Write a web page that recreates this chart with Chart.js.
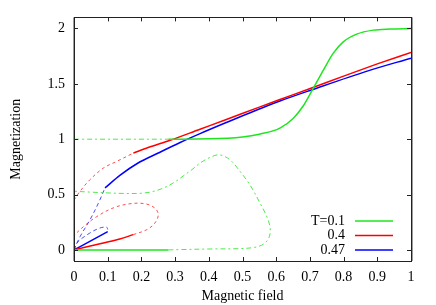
<!DOCTYPE html>
<html>
<head>
<meta charset="utf-8">
<script src="https://cdn.jsdelivr.net/npm/chart.js@4.4.0/dist/chart.umd.min.js"></script>
<style>
  html, body { margin: 0; padding: 0; background: #fff; }
</style>
</head>
<body>
<canvas id="magChart" width="436" height="305"></canvas>
<script>
// ticks
const fieldTicks = [0, 0.1, 0.2, 0.3, 0.4, 0.5, 0.6, 0.7, 0.8, 0.9, 1];
const magTicks = [0, 0.5, 1, 1.5, 2];

// T=0.1 (green): [field, magnetization]
const greenLow = [[0, 0], [0.28, 0]];
const greenLoop = [[0.28, 0], [0.315, 0.003], [0.413, 0.009], [0.493, 0.012], [0.542, 0.027],
    [0.567, 0.063], [0.58, 0.123], [0.582, 0.198], [0.574, 0.288], [0.552, 0.423], [0.522, 0.588],
    [0.493, 0.708], [0.463, 0.813], [0.431, 0.859], [0.40, 0.83], [0.374, 0.784], [0.35, 0.725],
    [0.324, 0.668], [0.30, 0.615], [0.27, 0.565], [0.235, 0.528], [0.2, 0.512], [0.15, 0.51],
    [0.1, 0.515], [0.05, 0.522], [0, 0.53]];
const greenMidDash = [[0, 1], [0.28, 1]];
const greenHigh = [[0.28, 1], [0.4, 1.003], [0.5, 1.02], [0.55, 1.045], [0.611, 1.1], [0.651, 1.19],
    [0.68, 1.3], [0.71, 1.46], [0.74, 1.624], [0.769, 1.775], [0.799, 1.879], [0.839, 1.949],
    [0.888, 1.985], [0.938, 1.995], [1, 2.0]];

// T=0.4 (red)
const redLow = [[0, 0], [0.087, 0.063], [0.136, 0.099], [0.176, 0.138]];
const redLoop = [[0.176, 0.138], [0.216, 0.183], [0.24, 0.243], [0.25, 0.318], [0.24, 0.378],
    [0.211, 0.417], [0.166, 0.417], [0.117, 0.38], [0.067, 0.30], [0.028, 0.21], [0.003, 0.138],
    [0, 0.12]];
const redUpperDash = [[0, 0.45], [0.018, 0.53], [0.047, 0.633], [0.087, 0.739], [0.127, 0.80],
    [0.176, 0.874]];
const redHigh = [[0.176, 0.874], [0.22, 0.925], [0.285, 0.99], [0.374, 1.09], [0.45, 1.175],
    [0.55, 1.29], [0.611, 1.358], [0.705, 1.462], [0.8, 1.57], [0.9, 1.68], [1, 1.784]];

// T=0.47 (blue)
const blueLow = [[0, 0], [0.047, 0.078], [0.1, 0.165]];
const blueLowDash = [[0, 0], [0.008, 0.063], [0.047, 0.153], [0.077, 0.198], [0.097, 0.205],
    [0.1, 0.185]];
const blueSteepDash = [[0, 0], [0.018, 0.12], [0.047, 0.27], [0.072, 0.42], [0.092, 0.56]];
const blueHigh = [[0.092, 0.56], [0.137, 0.675], [0.19, 0.785], [0.25, 0.875], [0.315, 0.97],
    [0.374, 1.05], [0.45, 1.148], [0.572, 1.3], [0.611, 1.345], [0.705, 1.445], [0.87, 1.615],
    [1, 1.732]];

const legendLabels = ['T=0.1', '0.4', '0.47'];

const GREEN = 'rgb(30,230,30)';
const RED = 'rgb(255,0,0)';
const BLUE = 'rgb(0,0,255)';
const FONT = 'Liberation Serif';

function pts(arr) {
    return arr.map(p => ({ x: p[0], y: p[1] }));
}

// x-monotone stable branches
function solid(arr, color) {
    return { data: pts(arr), borderColor: color, borderWidth: 1.5, cubicInterpolationMode: 'monotone' };
}

// unstable branches, some fold back
function dashed(arr, color, dash) {
    return { data: pts(arr), borderColor: color, borderWidth: 1, borderDash: dash, tension: 0.35 };
}

const datasets = [
    solid(greenLow, GREEN),
    dashed(greenLoop, 'rgba(30,230,30,0.8)', [5, 3, 2, 3]),
    dashed(greenMidDash, 'rgba(30,230,30,0.8)', [5, 3, 2, 3]),
    solid(greenHigh, GREEN),
    solid(redLow, RED),
    dashed(redLoop, 'rgba(255,0,0,0.7)', [3, 3]),
    dashed(redUpperDash, 'rgba(255,0,0,0.7)', [3, 3]),
    solid(redHigh, RED),
    solid(blueLow, BLUE),
    dashed(blueLowDash, 'rgba(0,0,255,0.7)', [4, 3]),
    dashed(blueSteepDash, 'rgba(0,0,255,0.7)', [4, 3]),
    solid(blueHigh, BLUE)
];

// frame with inward ticks on all sides
const framePlugin = {
    id: 'frame',
    afterDraw(chart) {
        const ctx = chart.ctx;
        const { left, right, top, bottom } = chart.chartArea;
        const xs = chart.scales.x, ys = chart.scales.y;
        ctx.save();
        ctx.strokeStyle = '#222';
        ctx.lineWidth = 1;
        ctx.strokeRect(Math.round(left) + 0.5, Math.round(top) + 0.5,
            Math.round(right - left), Math.round(bottom - top));
        ctx.strokeStyle = 'rgba(90,90,90,0.6)';
        ctx.beginPath();
        ctx.moveTo(Math.round(left) - 0.5, top); ctx.lineTo(Math.round(left) - 0.5, bottom);
        ctx.moveTo(Math.round(right) + 1.5, top); ctx.lineTo(Math.round(right) + 1.5, bottom);
        ctx.stroke();
        ctx.strokeStyle = '#222';
        ctx.beginPath();
        fieldTicks.forEach(v => {
            const px = Math.round(xs.getPixelForValue(v)) + 0.5;
            ctx.moveTo(px, bottom); ctx.lineTo(px, bottom - 4);
            ctx.moveTo(px, top); ctx.lineTo(px, top + 4);
        });
        magTicks.forEach(v => {
            const py = Math.round(ys.getPixelForValue(v)) + 0.5;
            ctx.moveTo(left, py); ctx.lineTo(left + 4, py);
            ctx.moveTo(right, py); ctx.lineTo(right - 4, py);
        });
        ctx.stroke();
        ctx.restore();
    }
};

// legend in the lower right corner
const legendPlugin = {
    id: 'cornerLegend',
    afterDraw(chart) {
        const ctx = chart.ctx;
        const colors = [GREEN, RED, BLUE];
        ctx.save();
        ctx.font = '14px "' + FONT + '"';
        ctx.textAlign = 'right';
        ctx.textBaseline = 'middle';
        legendLabels.forEach((label, i) => {
            const y = 221 + i * 14.5;
            ctx.fillStyle = '#000';
            ctx.fillText(label, 345, y);
            ctx.strokeStyle = colors[i];
            ctx.lineWidth = 1.5;
            ctx.beginPath();
            ctx.moveTo(355, y);
            ctx.lineTo(393, y);
            ctx.stroke();
        });
        ctx.restore();
    }
};

new Chart(document.getElementById('magChart'), {
    type: 'scatter',
    data: { datasets: datasets.map(d => Object.assign(d, { showLine: true, pointRadius: 0, fill: false })) },
    options: {
        responsive: false,
        animation: false,
        layout: { padding: { top: 17, right: 25, left: 0, bottom: 0 } },
        plugins: { legend: { display: false }, tooltip: { enabled: false } },
        scales: {
            x: {
                type: 'linear',
                min: 0,
                max: 1,
                afterBuildTicks: s => { s.ticks = fieldTicks.map(v => ({ value: v })); },
                afterFit: s => { s.height = 44; },
                grid: { display: false, drawTicks: false },
                border: { display: false },
                ticks: {
                    autoSkip: false, maxRotation: 0, padding: 8, color: '#000',
                    font: { family: FONT, size: 14 },
                    callback: v => String(v)
                },
                title: {
                    display: true, text: 'Magnetic field', color: '#000',
                    font: { family: FONT, size: 14 }, padding: { top: 0, bottom: 0 }
                }
            },
            y: {
                type: 'linear',
                min: -0.1,
                max: 2.1,
                afterBuildTicks: s => { s.ticks = magTicks.map(v => ({ value: v })); },
                afterFit: s => { s.width = 74; },
                grid: { display: false, drawTicks: false },
                border: { display: false },
                ticks: {
                    padding: 9, color: '#000',
                    font: { family: FONT, size: 14 },
                    callback: v => String(v)
                },
                title: {
                    display: true, text: 'Magnetization', color: '#000',
                    font: { family: FONT, size: 14 }, padding: { top: 8, bottom: 0 }
                }
            }
        }
    },
    plugins: [framePlugin, legendPlugin]
});
</script>
</body>
</html>
